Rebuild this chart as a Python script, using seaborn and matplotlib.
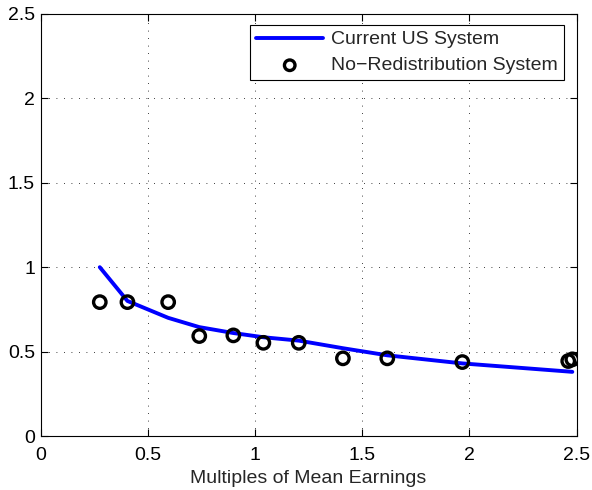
import matplotlib
matplotlib.use("Agg")
import matplotlib.pyplot as plt
import seaborn as sns
import pandas as pd

# Data
earnings_x = [0.276, 0.405, 0.595, 0.740, 0.899, 1.039, 1.204, 1.410, 1.617, 1.967, 2.461, 2.480]
current_us = [1.000, 0.800, 0.700, 0.645, 0.610, 0.585, 0.565, 0.520, 0.478, 0.430, 0.382, 0.380]
no_redist = [0.793, 0.793, 0.793, 0.592, 0.596, 0.552, 0.552, 0.460, 0.460, 0.438, 0.444, 0.454]
x_ticks = [0, 0.5, 1, 1.5, 2, 2.5]
y_ticks = [0, 0.5, 1, 1.5, 2, 2.5]
x_tick_labels = ["0", "0.5", "1", "1.5", "2", "2.5"]
y_tick_labels = ["0", "0.5", "1", "1.5", "2", "2.5"]
line_label = "Current US System"
marker_label = "No\u2212Redistribution System"
x_label = "Multiples of Mean Earnings"

sns.set_style("white")
plt.rcParams["font.family"] = ["Liberation Sans", "DejaVu Sans"]

df = pd.DataFrame({"x": earnings_x, "cur": current_us, "nr": no_redist})

fig = plt.figure(figsize=(5.92, 4.90), dpi=100)
ax = fig.add_axes([0.0686, 0.1102, 0.9054, 0.8613])

sns.lineplot(data=df, x="x", y="cur", ax=ax, color="#0000ff", linewidth=2.8,
             label=line_label, sort=False)
sns.scatterplot(data=df, x="x", y="nr", ax=ax, marker="o", s=80,
                facecolors="none", edgecolor="black", linewidth=2.4,
                label=marker_label, zorder=3)

ax.set_xlim(0, 2.5)
ax.set_ylim(0, 2.5)
ax.set_xticks(x_ticks)
ax.set_xticklabels(x_tick_labels)
ax.set_yticks(y_ticks)
ax.set_yticklabels(y_tick_labels)
ax.set_xlabel(x_label, fontsize=14, labelpad=4)
ax.set_ylabel("")
ax.tick_params(direction="in", length=5, width=0.8, labelsize=14, colors="black",
               top=True, right=True, bottom=True, left=True)
ax.tick_params(axis="x", pad=8)
ax.tick_params(axis="y", pad=4)
ax.grid(True, linestyle=(0, (1, 8)), color="black", linewidth=0.6)
for s in ax.spines.values():
    s.set_visible(True)
    s.set_color("black")
    s.set_linewidth(0.8)

leg = ax.legend(loc="upper right", bbox_to_anchor=(0.9765, 0.974), borderaxespad=0,
                fontsize=14, frameon=True, fancybox=False,
                edgecolor="black", handlelength=3.45, handletextpad=0.42,
                scatterpoints=1, labelspacing=0.43,
                borderpad=0.3, markerscale=0.85)
leg.get_frame().set_linewidth(0.8)
leg.get_frame().set_alpha(1)

fig.savefig("out.png", dpi=100)
